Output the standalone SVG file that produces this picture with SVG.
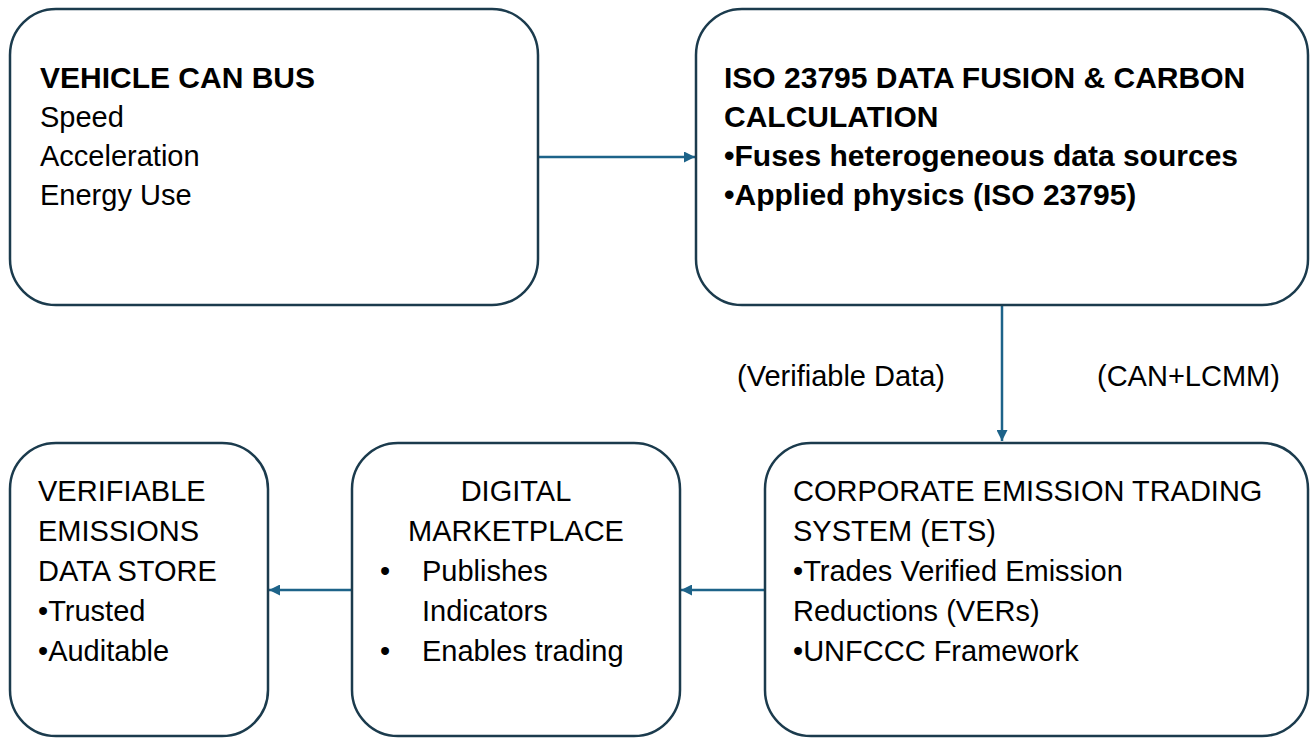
<svg xmlns="http://www.w3.org/2000/svg" width="1316" height="739" viewBox="0 0 1316 739">
  <style>
    .box { fill: #ffffff; stroke: #1b3b4d; stroke-width: 2.5; }
    .link { fill: none; stroke: #1d6389; stroke-width: 2.5; }
    .t { font-family: "Liberation Sans", Arial, sans-serif; font-size: 29px; fill: #000000; }
    .b { font-weight: bold; font-size: 30px; }
    .mid { text-anchor: middle; }
  </style>
  <defs>
    <marker id="arrow" viewBox="0 0 10 10" refX="10" refY="5" markerWidth="12" markerHeight="11" markerUnits="userSpaceOnUse" orient="auto">
      <path d="M0,0 L10,5 L0,10 z" fill="#1d6389"/>
    </marker>
  </defs>
  <rect width="1316" height="739" fill="#ffffff"/>

  <!-- connectors -->
  <g id="connectors">
    <line class="link" x1="539" y1="157" x2="695" y2="157" marker-end="url(#arrow)"/>
    <line class="link" x1="1002" y1="306" x2="1002" y2="441" marker-end="url(#arrow)"/>
    <line class="link" x1="764" y1="590" x2="681" y2="590" marker-end="url(#arrow)"/>
    <line class="link" x1="351" y1="590" x2="269" y2="590" marker-end="url(#arrow)"/>
    <text class="t" x="737" y="386">(Verifiable Data)</text>
    <text class="t" x="1097" y="386">(CAN+LCMM)</text>
  </g>

  <!-- vehicle CAN bus -->
  <g id="node-can">
    <rect class="box" x="10" y="9" width="528" height="296" rx="46" ry="46"/>
    <text class="t b" x="40" y="88">VEHICLE CAN BUS</text>
    <text class="t" x="40" y="127">Speed</text>
    <text class="t" x="40" y="166">Acceleration</text>
    <text class="t" x="40" y="205">Energy Use</text>
  </g>

  <!-- ISO 23795 fusion -->
  <g id="node-fusion">
    <rect class="box" x="696" y="9" width="612" height="296" rx="46" ry="46"/>
    <text class="t b" x="724" y="88">ISO 23795 DATA FUSION &amp; CARBON</text>
    <text class="t b" x="724" y="127">CALCULATION</text>
    <text class="t b" x="724" y="166">•Fuses heterogeneous data sources</text>
    <text class="t b" x="724" y="205">•Applied physics (ISO 23795)</text>
  </g>

  <!-- corporate ETS -->
  <g id="node-ets">
    <rect class="box" x="765" y="443" width="543" height="293" rx="46" ry="46"/>
    <text class="t" x="793" y="501">CORPORATE EMISSION TRADING</text>
    <text class="t" x="793" y="541">SYSTEM (ETS)</text>
    <text class="t" x="793" y="581">•Trades Verified Emission</text>
    <text class="t" x="793" y="621">Reductions (VERs)</text>
    <text class="t" x="793" y="661">•UNFCCC Framework</text>
  </g>

  <!-- digital marketplace -->
  <g id="node-market">
    <rect class="box" x="352" y="443" width="328" height="293" rx="46" ry="46"/>
    <text class="t mid" x="516" y="501">DIGITAL</text>
    <text class="t mid" x="516" y="541">MARKETPLACE</text>
    <text class="t" x="380" y="581">•</text>
    <text class="t" x="422" y="581">Publishes</text>
    <text class="t" x="422" y="621">Indicators</text>
    <text class="t" x="380" y="661">•</text>
    <text class="t" x="422" y="661">Enables trading</text>
  </g>

  <!-- emissions data store -->
  <g id="node-store">
    <rect class="box" x="10" y="443" width="258" height="293" rx="46" ry="46"/>
    <text class="t" x="38" y="501">VERIFIABLE</text>
    <text class="t" x="38" y="541">EMISSIONS</text>
    <text class="t" x="38" y="581">DATA STORE</text>
    <text class="t" x="38" y="621">•Trusted</text>
    <text class="t" x="38" y="661">•Auditable</text>
  </g>
</svg>
